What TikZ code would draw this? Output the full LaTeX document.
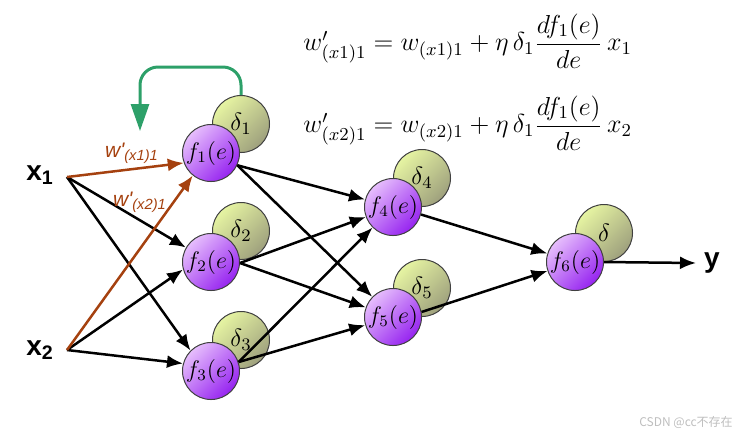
\RequirePackage{fix-cm}
\documentclass[tikz,border=0pt]{standalone}
\usepackage{amsmath}
\usepackage{fontspec}
\newfontfamily\arialfont{Liberation Sans}
\newfontfamily\cjkfont{Noto Sans CJK SC}
\usetikzlibrary{arrows.meta}
\definecolor{pl}{RGB}{230,190,252}
\definecolor{pd}{RGB}{150,35,240}
\definecolor{gl}{RGB}{230,244,162}
\definecolor{gd}{RGB}{158,160,125}
\definecolor{brn}{RGB}{165,65,15}
\definecolor{grn}{RGB}{45,160,105}
\definecolor{wm}{RGB}{190,190,190}
\tikzset{
  fnode/.style={circle,draw=black!75,line width=0.5pt,minimum size=28.5pt,inner sep=0pt,
    top color=pl,bottom color=pd,shading angle=45,font=\fontsize{12}{14}\selectfont},
  dnode/.style={circle,draw=black!75,line width=0.5pt,minimum size=28.5pt,inner sep=0pt,
    top color=gl,bottom color=gd,shading angle=45,font=\fontsize{12.5}{14}\selectfont},
  conn/.style={line width=1.25pt,-{Latex[length=8pt,width=6.5pt]}},
  wconn/.style={conn,draw=brn,fill=brn},
  fbconn/.style={line width=1.5pt,draw=grn,rounded corners=9pt,-{Triangle[length=13.5pt,width=9pt,fill=grn]}},
  inlabel/.style={font=\arialfont\bfseries\fontsize{14}{16}\selectfont,inner sep=1pt},
  wlabel/.style={text=brn,font=\arialfont\itshape\fontsize{10.5}{12}\selectfont,inner sep=0pt},
  eqlabel/.style={anchor=west,inner sep=0pt,font=\fontsize{13}{15}\selectfont},
  wmark/.style={text=wm,font=\cjkfont\fontsize{6}{7}\selectfont,inner sep=0pt}
}
\begin{document}
\begin{tikzpicture}[x=0.5pt,y=-0.5pt]
\useasboundingbox (0,0) rectangle (747,436);
% delta circles
\node[dnode] (d1) at (241,124) {$\delta_1$};
\node[dnode] (d2) at (241,231) {$\delta_2$};
\node[dnode] (d3) at (241,340) {$\delta_3$};
\node[dnode] (d4) at (422,178) {$\delta_4$};
\node[dnode] (d5) at (422,288) {$\delta_5$};
\node[dnode] (d6) at (604,233) {$\delta$};
% neuron circles
\node[fnode] (f1) at (211,153) {$f_1(e)$};
\node[fnode] (f2) at (211,262) {$f_2(e)$};
\node[fnode] (f3) at (211,371) {$f_3(e)$};
\node[fnode] (f4) at (393,207) {$f_4(e)$};
\node[fnode] (f5) at (393,317) {$f_5(e)$};
\node[fnode] (f6) at (575,262) {$f_6(e)$};
% inputs / output
\node[inlabel] (x1) at (40,175) {x\textsubscript{1}};
\node[inlabel] (x2) at (40,350) {x\textsubscript{2}};
\node[inlabel] (y) at (712,263) {y};
\coordinate (x1p) at (67,177);
\coordinate (x2p) at (67,350);
\coordinate (yp) at (696,263);
% black connections
\draw[conn] (x1p) -- (f2.150);
\draw[conn] (x1p) -- (f3.135);
\draw[conn] (x2p) -- (f2.195);
\draw[conn] (x2p) -- (f3.165);
\draw[conn] (f1.-25) -- (f4);
\draw[conn] (f1.-25) -- (f5);
\draw[conn] (f2.-2) -- (f4);
\draw[conn] (f2.-2) -- (f5);
\draw[conn] (f3.18) -- (f4);
\draw[conn] (f3.18) -- (f5);
\draw[conn] (f4.-15) -- (f6);
\draw[conn] (f5.10) -- (f6);
\draw[conn] (f6.east) -- (yp);
% brown weighted connections
\draw[wconn] (x1p) -- (f1.200);
\draw[wconn] (x2p) -- (f1.231);
\node[wlabel] (w1) at (132,153) {w'\textsubscript{(x1)1}};
\node[wlabel] (w2) at (140,202) {w'\textsubscript{(x2)1}};
% feedback arrow
\coordinate (gtop) at (140,67);
\coordinate (gtip) at (140,131);
\draw[fbconn] (d1.north) |- (gtop) -- (gtip);
% equations
\node[eqlabel] (eq1) at (303,41) {$w'_{(x1)1} = w_{(x1)1} + \eta\,\delta_1 \dfrac{df_1(e)}{de}\,x_1$};
\node[eqlabel] (eq2) at (303,123) {$w'_{(x2)1} = w_{(x2)1} + \eta\,\delta_1 \dfrac{df_1(e)}{de}\,x_2$};
% watermark
\node[wmark] (wm) at (686,422) {CSDN @cc不存在};
\end{tikzpicture}
\end{document}
